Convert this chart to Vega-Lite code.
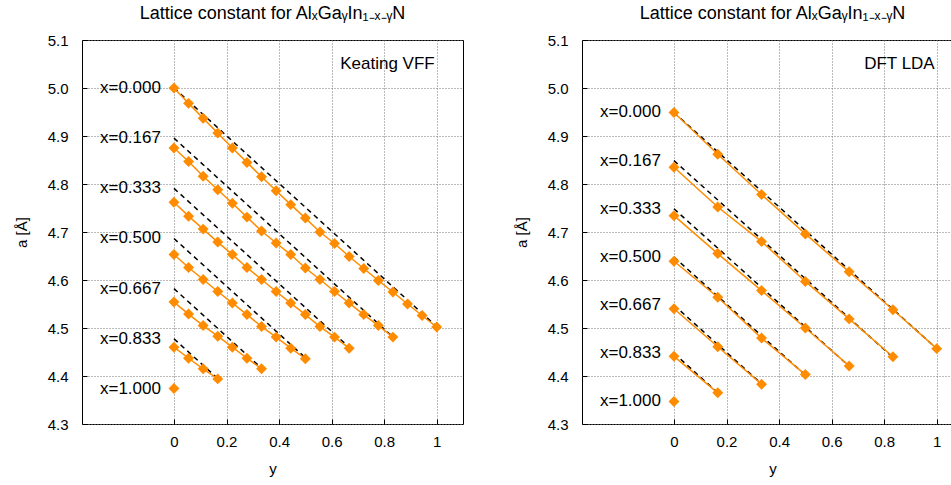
{
  "$schema": "https://vega.github.io/schema/vega-lite/v6.json",
  "background": "white",
  "padding": {"left": 13, "top": 4, "right": 0, "bottom": 0},
  "spacing": 49,
  "config": {
    "font": "Liberation Sans",
    "view": {"stroke": "black", "strokeWidth": 1},
    "axis": {
      "labelFont": "Liberation Sans", "labelFontSize": 15, "labelColor": "black",
      "titleFont": "Liberation Sans", "titleFontSize": 15, "titleFontWeight": "normal", "titleColor": "black",
      "domain": false, "grid": true, "gridColor": "#777", "gridDash": [1, 2], "gridOpacity": 1,
      "ticks": true, "tickColor": "black", "tickSize": -5
    },
    "axisX": {"labelPadding": 15, "titlePadding": 12},
    "axisY": {"labelPadding": 19, "titlePadding": 18},
    "title": {"font": "Liberation Sans", "fontSize": 18, "fontWeight": "normal", "color": "black", "offset": 10}
  },
  "datasets": {
    "vff": [
      {"series": "x=0.000", "ga": 0.0, "a": 5.000}, {"series": "x=0.000", "ga": 0.0556, "a": 4.968}, {"series": "x=0.000", "ga": 0.1111, "a": 4.937}, {"series": "x=0.000", "ga": 0.1667, "a": 4.906}, {"series": "x=0.000", "ga": 0.2222, "a": 4.875}, {"series": "x=0.000", "ga": 0.2778, "a": 4.845}, {"series": "x=0.000", "ga": 0.3333, "a": 4.815}, {"series": "x=0.000", "ga": 0.3889, "a": 4.786}, {"series": "x=0.000", "ga": 0.4444, "a": 4.757}, {"series": "x=0.000", "ga": 0.5, "a": 4.729}, {"series": "x=0.000", "ga": 0.5556, "a": 4.700}, {"series": "x=0.000", "ga": 0.6111, "a": 4.676}, {"series": "x=0.000", "ga": 0.6667, "a": 4.649}, {"series": "x=0.000", "ga": 0.7222, "a": 4.624}, {"series": "x=0.000", "ga": 0.7778, "a": 4.599}, {"series": "x=0.000", "ga": 0.8333, "a": 4.575}, {"series": "x=0.000", "ga": 0.8889, "a": 4.550}, {"series": "x=0.000", "ga": 0.9444, "a": 4.526}, {"series": "x=0.000", "ga": 1.0, "a": 4.502},
      {"series": "x=0.167", "ga": 0.0, "a": 4.875}, {"series": "x=0.167", "ga": 0.0556, "a": 4.847}, {"series": "x=0.167", "ga": 0.1111, "a": 4.816}, {"series": "x=0.167", "ga": 0.1667, "a": 4.788}, {"series": "x=0.167", "ga": 0.2222, "a": 4.760}, {"series": "x=0.167", "ga": 0.2778, "a": 4.731}, {"series": "x=0.167", "ga": 0.3333, "a": 4.702}, {"series": "x=0.167", "ga": 0.3889, "a": 4.677}, {"series": "x=0.167", "ga": 0.4444, "a": 4.653}, {"series": "x=0.167", "ga": 0.5, "a": 4.625}, {"series": "x=0.167", "ga": 0.5556, "a": 4.601}, {"series": "x=0.167", "ga": 0.6111, "a": 4.576}, {"series": "x=0.167", "ga": 0.6667, "a": 4.552}, {"series": "x=0.167", "ga": 0.7222, "a": 4.528}, {"series": "x=0.167", "ga": 0.7778, "a": 4.505}, {"series": "x=0.167", "ga": 0.8333, "a": 4.481},
      {"series": "x=0.333", "ga": 0.0, "a": 4.762}, {"series": "x=0.333", "ga": 0.0556, "a": 4.733}, {"series": "x=0.333", "ga": 0.1111, "a": 4.706}, {"series": "x=0.333", "ga": 0.1667, "a": 4.679}, {"series": "x=0.333", "ga": 0.2222, "a": 4.653}, {"series": "x=0.333", "ga": 0.2778, "a": 4.626}, {"series": "x=0.333", "ga": 0.3333, "a": 4.601}, {"series": "x=0.333", "ga": 0.3889, "a": 4.576}, {"series": "x=0.333", "ga": 0.4444, "a": 4.552}, {"series": "x=0.333", "ga": 0.5, "a": 4.528}, {"series": "x=0.333", "ga": 0.5556, "a": 4.503}, {"series": "x=0.333", "ga": 0.6111, "a": 4.481}, {"series": "x=0.333", "ga": 0.6667, "a": 4.458},
      {"series": "x=0.500", "ga": 0.0, "a": 4.653}, {"series": "x=0.500", "ga": 0.0556, "a": 4.626}, {"series": "x=0.500", "ga": 0.1111, "a": 4.601}, {"series": "x=0.500", "ga": 0.1667, "a": 4.576}, {"series": "x=0.500", "ga": 0.2222, "a": 4.552}, {"series": "x=0.500", "ga": 0.2778, "a": 4.528}, {"series": "x=0.500", "ga": 0.3333, "a": 4.503}, {"series": "x=0.500", "ga": 0.3889, "a": 4.481}, {"series": "x=0.500", "ga": 0.4444, "a": 4.458}, {"series": "x=0.500", "ga": 0.5, "a": 4.436},
      {"series": "x=0.667", "ga": 0.0, "a": 4.554}, {"series": "x=0.667", "ga": 0.0556, "a": 4.529}, {"series": "x=0.667", "ga": 0.1111, "a": 4.505}, {"series": "x=0.667", "ga": 0.1667, "a": 4.483}, {"series": "x=0.667", "ga": 0.2222, "a": 4.460}, {"series": "x=0.667", "ga": 0.2778, "a": 4.437}, {"series": "x=0.667", "ga": 0.3333, "a": 4.415},
      {"series": "x=0.833", "ga": 0.0, "a": 4.460}, {"series": "x=0.833", "ga": 0.0556, "a": 4.437}, {"series": "x=0.833", "ga": 0.1111, "a": 4.415}, {"series": "x=0.833", "ga": 0.1667, "a": 4.394},
      {"series": "x=1.000", "ga": 0.0, "a": 4.374}
    ],
    "vff_vegard": [
      {"series": "x=0.000", "ga": 0.0, "a": 5.000}, {"series": "x=0.000", "ga": 1.0, "a": 4.503},
      {"series": "x=0.167", "ga": 0.0, "a": 4.8955}, {"series": "x=0.167", "ga": 0.8333, "a": 4.4813},
      {"series": "x=0.333", "ga": 0.0, "a": 4.791}, {"series": "x=0.333", "ga": 0.6667, "a": 4.4597},
      {"series": "x=0.500", "ga": 0.0, "a": 4.6865}, {"series": "x=0.500", "ga": 0.5, "a": 4.438},
      {"series": "x=0.667", "ga": 0.0, "a": 4.582}, {"series": "x=0.667", "ga": 0.3333, "a": 4.4163},
      {"series": "x=0.833", "ga": 0.0, "a": 4.4775}, {"series": "x=0.833", "ga": 0.1667, "a": 4.3947},
      {"series": "x=1.000", "ga": 0.0, "a": 4.373}
    ],
    "lda": [
      {"series": "x=0.000", "ga": 0.0, "a": 4.949}, {"series": "x=0.000", "ga": 0.1667, "a": 4.862}, {"series": "x=0.000", "ga": 0.3333, "a": 4.778}, {"series": "x=0.000", "ga": 0.5, "a": 4.696}, {"series": "x=0.000", "ga": 0.6667, "a": 4.617}, {"series": "x=0.000", "ga": 0.8333, "a": 4.538}, {"series": "x=0.000", "ga": 1.0, "a": 4.457},
      {"series": "x=0.167", "ga": 0.0, "a": 4.835}, {"series": "x=0.167", "ga": 0.1667, "a": 4.752}, {"series": "x=0.167", "ga": 0.3333, "a": 4.680}, {"series": "x=0.167", "ga": 0.5, "a": 4.597}, {"series": "x=0.167", "ga": 0.6667, "a": 4.519}, {"series": "x=0.167", "ga": 0.8333, "a": 4.440},
      {"series": "x=0.333", "ga": 0.0, "a": 4.734}, {"series": "x=0.333", "ga": 0.1667, "a": 4.655}, {"series": "x=0.333", "ga": 0.3333, "a": 4.578}, {"series": "x=0.333", "ga": 0.5, "a": 4.500}, {"series": "x=0.333", "ga": 0.6667, "a": 4.421},
      {"series": "x=0.500", "ga": 0.0, "a": 4.639}, {"series": "x=0.500", "ga": 0.1667, "a": 4.564}, {"series": "x=0.500", "ga": 0.3333, "a": 4.479}, {"series": "x=0.500", "ga": 0.5, "a": 4.403},
      {"series": "x=0.667", "ga": 0.0, "a": 4.540}, {"series": "x=0.667", "ga": 0.1667, "a": 4.461}, {"series": "x=0.667", "ga": 0.3333, "a": 4.383},
      {"series": "x=0.833", "ga": 0.0, "a": 4.441}, {"series": "x=0.833", "ga": 0.1667, "a": 4.365},
      {"series": "x=1.000", "ga": 0.0, "a": 4.347}
    ],
    "lda_vegard": [
      {"series": "x=0.000", "ga": 0.0, "a": 4.949}, {"series": "x=0.000", "ga": 1.0, "a": 4.457},
      {"series": "x=0.167", "ga": 0.0, "a": 4.8487}, {"series": "x=0.167", "ga": 0.8333, "a": 4.4387},
      {"series": "x=0.333", "ga": 0.0, "a": 4.7483}, {"series": "x=0.333", "ga": 0.6667, "a": 4.4203},
      {"series": "x=0.500", "ga": 0.0, "a": 4.648}, {"series": "x=0.500", "ga": 0.5, "a": 4.402},
      {"series": "x=0.667", "ga": 0.0, "a": 4.5477}, {"series": "x=0.667", "ga": 0.3333, "a": 4.3837},
      {"series": "x=0.833", "ga": 0.0, "a": 4.4473}, {"series": "x=0.833", "ga": 0.1667, "a": 4.3653},
      {"series": "x=1.000", "ga": 0.0, "a": 4.347}
    ],
    "notes": [
      {"panel": "vff", "text": "Keating VFF", "ga": 1.0, "a": 5.05},
      {"panel": "lda", "text": "DFT LDA", "ga": 1.0, "a": 5.05}
    ]
  },
  "hconcat": [
    {
      "width": 381, "height": 384,
      "title": "Lattice constant for AlₓGaᵧIn₁₋ₓ₋ᵧN",
      "encoding": {
        "x": {"field": "ga", "type": "quantitative", "title": "y", "scale": {"domain": [-0.35, 1.1], "nice": false, "zero": false},
              "axis": {"values": [0, 0.2, 0.4, 0.6, 0.8, 1], "format": "~g"}},
        "y": {"field": "a", "type": "quantitative", "title": "a [Å]", "scale": {"domain": [4.3, 5.1], "nice": false, "zero": false},
              "axis": {"values": [4.3, 4.4, 4.5, 4.6, 4.7, 4.8, 4.9, 5.0, 5.1], "format": ".1f"}}
      },
      "layer": [
        {"data": {"name": "vff_vegard"}, "mark": {"type": "line", "color": "black", "strokeDash": [5, 4], "strokeWidth": 1.5}, "encoding": {"detail": {"field": "series"}}},
        {"data": {"name": "vff"}, "mark": {"type": "line", "color": "#ff8c00", "strokeWidth": 1.5}, "encoding": {"detail": {"field": "series"}}},
        {"data": {"name": "vff"}, "mark": {"type": "point", "shape": "diamond", "filled": true, "size": 120, "color": "#ff8c00", "opacity": 1}},
        {"data": {"name": "vff_vegard"}, "transform": [{"filter": "datum.ga == 0"}], "mark": {"type": "text", "align": "right", "baseline": "middle", "dx": -13, "fontSize": 17, "color": "black"}, "encoding": {"text": {"field": "series"}}},
        {"data": {"name": "notes"}, "transform": [{"filter": "datum.panel == 'vff'"}], "mark": {"type": "text", "align": "right", "baseline": "middle", "dx": -2, "fontSize": 17, "color": "black"}, "encoding": {"text": {"field": "text"}}}
      ]
    },
    {
      "width": 381, "height": 384,
      "title": "Lattice constant for AlₓGaᵧIn₁₋ₓ₋ᵧN",
      "encoding": {
        "x": {"field": "ga", "type": "quantitative", "title": "y", "scale": {"domain": [-0.35, 1.1], "nice": false, "zero": false},
              "axis": {"values": [0, 0.2, 0.4, 0.6, 0.8, 1], "format": "~g"}},
        "y": {"field": "a", "type": "quantitative", "title": "a [Å]", "scale": {"domain": [4.3, 5.1], "nice": false, "zero": false},
              "axis": {"values": [4.3, 4.4, 4.5, 4.6, 4.7, 4.8, 4.9, 5.0, 5.1], "format": ".1f"}}
      },
      "layer": [
        {"data": {"name": "lda_vegard"}, "mark": {"type": "line", "color": "black", "strokeDash": [5, 4], "strokeWidth": 1.5}, "encoding": {"detail": {"field": "series"}}},
        {"data": {"name": "lda"}, "mark": {"type": "line", "color": "#ff8c00", "strokeWidth": 1.5}, "encoding": {"detail": {"field": "series"}}},
        {"data": {"name": "lda"}, "mark": {"type": "point", "shape": "diamond", "filled": true, "size": 120, "color": "#ff8c00", "opacity": 1}},
        {"data": {"name": "lda_vegard"}, "transform": [{"filter": "datum.ga == 0"}], "mark": {"type": "text", "align": "right", "baseline": "middle", "dx": -13, "fontSize": 17, "color": "black"}, "encoding": {"text": {"field": "series"}}},
        {"data": {"name": "notes"}, "transform": [{"filter": "datum.panel == 'lda'"}], "mark": {"type": "text", "align": "right", "baseline": "middle", "dx": -2, "fontSize": 17, "color": "black"}, "encoding": {"text": {"field": "text"}}}
      ]
    }
  ]
}
